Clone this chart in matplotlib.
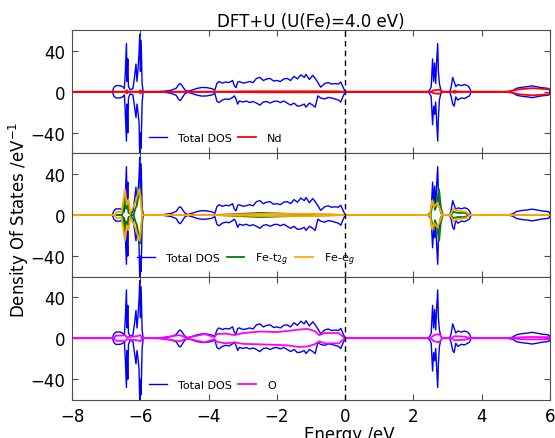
import matplotlib
matplotlib.use("Agg")
import matplotlib.pyplot as plt

# ---- total DOS (same in all three panels) ----
e_tot = [-8.0, -6.82, -6.78, -6.72, -6.6, -6.52, -6.47, -6.44, -6.41, -6.39, -6.37, -6.35,
         -6.3, -6.22, -6.17, -6.13, -6.1, -6.07, -6.04, -6.02, -6.0, -5.98, -5.95, -5.92,
         -5.55, -5.3, -5.1, -4.95, -4.88, -4.83, -4.78, -4.7, -4.62, -4.5, -4.35, -4.2,
         -4.05, -3.9, -3.82, -3.76, -3.7, -3.6, -3.5, -3.4, -3.3, -3.25, -3.2, -3.15,
         -3.1, -3.0, -2.9, -2.8, -2.7, -2.6, -2.5, -2.4, -2.3, -2.2, -2.1, -2.0,
         -1.9, -1.8, -1.7, -1.6, -1.5, -1.4, -1.3, -1.2, -1.15, -1.05, -0.95, -0.88,
         -0.8, -0.72, -0.6, -0.5, -0.4, -0.3, -0.2, -0.13, -0.07, 0.0,
         2.42, 2.48, 2.52, 2.56, 2.59, 2.62, 2.65, 2.68, 2.71, 2.73, 2.76, 2.8, 2.84,
         3.06, 3.1, 3.15, 3.19, 3.24, 3.3, 3.4, 3.5, 3.58, 3.64, 3.69,
         4.75, 4.9, 5.03, 5.2, 5.35, 5.47, 5.6, 5.75, 5.9, 5.97, 6.0]
tot_up = [0, 0, 4, 6, 6, 5, 3, 20, 47, 10, 32, 5,
          2, 3, 15, 27, 10, 22, 38, 56, 20, 50, 8, 0,
          0, 0.5, 1.5, 3.5, 7, 8, 6, 2, 0.5, 1.5, 3.2, 4.2,
          4, 3, 1.5, 8, 10, 8.5, 9.5, 9, 11, 6, 4, 9.5,
          10, 8.5, 9, 10, 9, 13, 14, 11, 12.5, 13, 10.5, 11,
          10, 12.5, 13, 11, 15, 12.5, 16.5, 14, 17, 12, 16, 13,
          9, 4.5, 8, 9, 7.5, 8, 7.5, 9.5, 5, 0,
          0, 2, 5, 32, 10, 28, 8, 30, 47, 20, 8, 2, 0,
          0, 4, 14, 10, 5, 7, 6, 7, 6, 4, 0,
          0, 1, 3.5, 4.5, 5, 5.7, 5, 4, 3.5, 3, 0]
tot_dn = [0, 0, -4, -6, -6, -5, -3, -22, -48, -12, -40, -6,
          -2, -3, -15, -25, -12, -20, -30, -62, -40, -55, -10, 0,
          0, -0.5, -1.5, -3.5, -7.5, -8.5, -6, -2, -0.5, -1.5, -3.2, -4.2,
          -4, -3, -1.5, -9, -10.5, -8, -7, -7.5, -5.5, -4, -7, -12,
          -9, -10, -9, -10.5, -9.5, -11, -13, -10, -9.5, -11, -9.5, -9,
          -10.5, -9, -11, -13, -11, -14, -13.5, -12, -15, -11, -13, -15,
          -4, -6, -7, -5.5, -6, -7, -8, -10, -5, 0,
          0, -2, -5, -32, -14, -22, -10, -30, -48, -25, -8, -2, 0,
          0, -4, -12, -14, -5, -8, -6, -6.5, -5, -4, 0,
          0, -1, -3.5, -4.5, -5, -5.7, -5, -4, -3.5, -3, 0]

# ---- Nd ----
e_nd = [-8.0, -6.45, -6.4, -6.35, -6.05, -6.0, -5.95, -3.8, -3.0, -2.0, -1.0, -0.2, 0.0,
        2.5, 2.6, 2.75, 2.85, 3.15, 3.2, 3.3, 4.7, 4.9, 5.1, 5.3, 5.5, 5.7, 5.9, 6.0]
nd_up = [0, 0, 1.5, 0, 0, 1.5, 0, 0, 0.4, 0.5, 0.5, 0.4, 0,
         0, 1.5, 2, 0, 0, 1, 0, 0, 1, 2.5, 3, 3.5, 3, 2.5, 2.5]
nd_dn = [0, 0, -1.5, 0, 0, -1.5, 0, 0, -0.4, -0.5, -0.5, -0.4, 0,
         0, -1.5, -2, 0, 0, -1, 0, 0, -1, -2.5, -3, -3.5, -3, -2.5, -2.5]

# ---- Fe-t2g ----
e_t2g = [-8.0, -6.55, -6.5, -6.45, -6.42, -6.39, -6.35, -6.2, -6.15, -6.1, -6.05, -6.02,
         -5.98, -5.93, -3.8, -2.8, -2.5, -1.5, 0.0, 2.5, 2.58, 2.63, 2.68, 2.75, 2.8, 2.86,
         3.1, 3.17, 3.3, 3.5, 3.65, 6.0]
t2g_up = [0, 0, 3, 18, 6, 14, 2, 0, 6, 10, 20, 27,
          12, 0, 0, 1.5, 2, 1, 0, 0, 15, 5, 10, 25, 8, 0,
          0, 3, 2, 2, 0, 0]
t2g_dn = [0, 0, -3, -18, -6, -14, -2, 0, -6, -10, -20, -28,
          -12, 0, 0, -1.5, -2, -1, 0, 0, -15, -5, -10, -25, -8, 0,
          0, -3, -2, -2, 0, 0]

# ---- Fe-eg ----
e_eg = [-8.0, -6.75, -6.7, -6.55, -6.45, -6.4, -6.35, -6.3, -6.15, -6.08, -6.03, -6.0,
        -5.95, -3.8, -2.5, -1.0, 0.0, 2.48, 2.55, 2.6, 2.7, 2.75, 2.84, 3.08, 3.17,
        3.3, 3.55, 3.65, 6.0]
eg_up = [0, 0, 3, 3, 25, 10, 15, 2, 12, 20, 25, 18,
         0, 0, 1, 1, 0, 0, 14, 8, 12, 8, 0, 0, 6,
         4, 3, 0, 0]
eg_dn = [0, 0, -3, -3, -25, -10, -15, -2, -12, -20, -25, -18,
         0, 0, -1, -1, 0, 0, -14, -8, -12, -8, 0, 0, -6,
         -4, -3, 0, 0]

# ---- O ----
e_o = [-8.0, -6.78, -6.72, -6.55, -6.45, -6.4, -6.1, -6.0, -5.95, -5.5, -4.85, -4.64,
       -4.12, -3.83, -3.76, -3.5, -3.24, -3.0, -2.5, -2.0, -1.7, -1.34, -1.1, -0.9,
       -0.76, -0.6, -0.3, -0.19, -0.08, 0.0, 2.5, 2.6, 2.75, 2.85, 3.1, 3.2, 3.5,
       3.68, 4.8, 5.2, 5.5, 5.9, 6.0]
o_up = [0, 0, 2.5, 2.5, 3, 1, 2, 3, 0, 0, 3, 0.3,
        4, 1, 4, 4.5, 3, 5, 6.5, 6, 7, 8.5, 9, 7,
        3, 5, 5, 5, 2, 0, 0, 3, 4, 0, 0, 2, 1.5,
        0, 0, 1, 1.2, 1, 1]
o_dn = [0, 0, -2.5, -2.5, -3, -1, -2, -3, 0, 0, -3, -0.3,
        -4, -1, -3.5, -5, -4, -5.5, -6, -6.5, -7, -8.5, -8, -6,
        -3, -5, -5, -5, -2, 0, 0, -3, -4, 0, 0, -2, -1.5,
        0, 0, -1, -1.2, -1, -1]

panels = [
    [("Nd", e_nd, nd_up, nd_dn, "red")],
    [("Fe-t$_{2g}$", e_t2g, t2g_up, t2g_dn, "green"),
     ("Fe-e$_g$", e_eg, eg_up, eg_dn, "orange")],
    [("O", e_o, o_up, o_dn, "magenta")],
]
legend_x = [0.14, 0.115, 0.14]

fig, axes = plt.subplots(3, 1, sharex=True, figsize=(5.55, 4.39), dpi=100)
fig.subplots_adjust(left=0.13, right=0.991, bottom=0.087, top=0.929, hspace=0)

for ax, parts, lx in zip(axes, panels, legend_x):
    ax.plot(e_tot, tot_up, color="blue", lw=1, label="Total DOS")
    ax.plot(e_tot, tot_dn, color="blue", lw=1)
    for name, e, up, dn, c in parts:
        ax.plot(e, up, color=c, lw=1.3, label=name)
        ax.plot(e, dn, color=c, lw=1.3)
    ax.axvline(0, color="k", ls="--", lw=1, dashes=(4, 3))
    ax.set_xlim(-8, 6)
    ax.set_ylim(-60, 60)
    ax.set_yticks([-40, 0, 40])
    ax.set_xticks(range(-8, 7, 2))
    ax.tick_params(direction="in", top=True, right=True, labelsize=12, length=4,
                   color="0.3", pad=5)
    for s in ax.spines.values():
        s.set_color("0.3")
    ax.legend(loc="lower left", bbox_to_anchor=(lx, 0.0), ncol=3, frameon=False,
              fontsize=8, handlelength=1.6, handletextpad=1.0, columnspacing=0.6)

axes[0].set_title("DFT+U (U(Fe)=4.0 eV)", fontsize=12, pad=3)
axes[2].set_xlabel("Energy /eV", fontsize=12, labelpad=0, x=0.58)
fig.text(0.035, 0.5, "Density Of States /eV$^{-1}$", rotation=90, fontsize=12,
         ha="center", va="center")

fig.savefig("out.png", dpi=100)
